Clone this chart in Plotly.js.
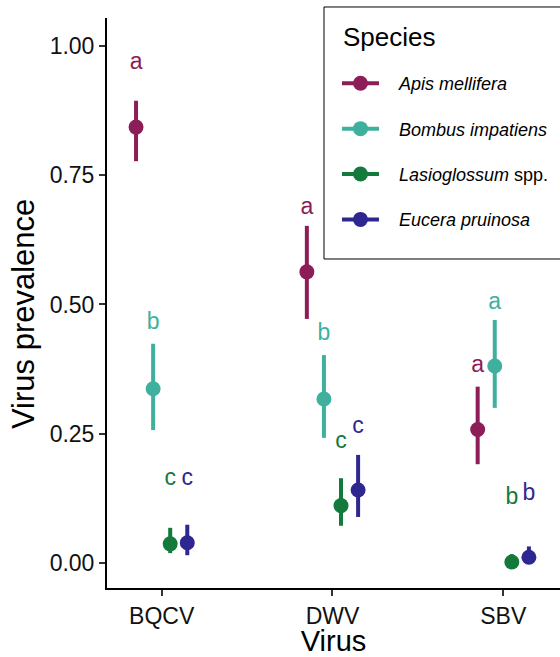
<!DOCTYPE html>
<html>
<head>
<meta charset="utf-8">
<script src="https://cdn.plot.ly/plotly-3.0.1.min.js"></script>
<style>html,body{margin:0;padding:0;background:#fff;}#chart{width:560px;height:657px;}</style>
</head>
<body>
<div id="chart"></div>
<script>
// ---- data ----
var viruses = ["BQCV", "DWV", "SBV"];
var speciesNames = ["<i>Apis mellifera</i>", "<i>Bombus impatiens</i>", "<i>Lasioglossum</i> spp.", "<i>Eucera pruinosa</i>"];

var apisMean   = [0.843, 0.563, 0.258];
var apisLow    = [0.777, 0.472, 0.191];
var apisHigh   = [0.894, 0.652, 0.341];
var apisLetter = ["a", "a", "a"];
var apisLetterY = [0.966, 0.687, 0.381];

var bombusMean   = [0.337, 0.317, 0.381];
var bombusLow    = [0.257, 0.242, 0.300];
var bombusHigh   = [0.424, 0.402, 0.470];
var bombusLetter = ["b", "b", "a"];
var bombusLetterY = [0.463, 0.442, 0.503];

var lasioMean   = [0.037, 0.111, 0.002];
var lasioLow    = [0.019, 0.072, 0.000];
var lasioHigh   = [0.068, 0.164, 0.017];
var lasioLetter = ["c", "c", "b"];
var lasioLetterY = [0.161, 0.234, 0.126];

var euceraMean   = [0.039, 0.141, 0.011];
var euceraLow    = [0.015, 0.089, 0.002];
var euceraHigh   = [0.074, 0.209, 0.032];
var euceraLetter = ["c", "c", "b"];
var euceraLetterY = [0.161, 0.262, 0.132];

// ---- styling ----
var colors = ["#8c1d56", "#40b09e", "#137a3b", "#2e278f"];
var dodge = [-0.15, -0.05, 0.05, 0.15];
var FONT = "Liberation Sans, Arial, Helvetica, sans-serif";
var LEGEND_PAD = "\u00a0\u00a0\u00a0";

var series = [
  {mean: apisMean, lo: apisLow, hi: apisHigh, let: apisLetter, ly: apisLetterY},
  {mean: bombusMean, lo: bombusLow, hi: bombusHigh, let: bombusLetter, ly: bombusLetterY},
  {mean: lasioMean, lo: lasioLow, hi: lasioHigh, let: lasioLetter, ly: lasioLetterY},
  {mean: euceraMean, lo: euceraLow, hi: euceraHigh, let: euceraLetter, ly: euceraLetterY}
];

var traces = [];
series.forEach(function (s, k) {
  // nulls between points: lines+markers draws no connecting segments, legend shows line through dot
  var xs = [], ys = [], ep = [], em = [];
  viruses.forEach(function (v, i) {
    if (i > 0) { xs.push(null); ys.push(null); ep.push(null); em.push(null); }
    xs.push(i + dodge[k]);
    ys.push(s.mean[i]);
    ep.push(s.hi[i] - s.mean[i]);
    em.push(s.mean[i] - s.lo[i]);
  });
  traces.push({
    type: "scatter", mode: "lines+markers", x: xs, y: ys, name: LEGEND_PAD + speciesNames[k],
    legendgroup: "g" + k, connectgaps: false,
    line: {color: colors[k], width: 4},
    marker: {color: colors[k], size: 15},
    error_y: {type: "data", symmetric: false, array: ep, arrayminus: em,
              color: colors[k], thickness: 4, width: 0},
    hoverinfo: "skip"
  });
});
series.forEach(function (s, k) {
  traces.push({
    type: "scatter", mode: "text", showlegend: false,
    x: viruses.map(function (v, i) { return i + dodge[k]; }),
    y: s.ly, text: s.let, textposition: "middle center",
    textfont: {family: FONT, size: 23, color: colors[k]},
    hoverinfo: "skip"
  });
});

var layout = {
  width: 560, height: 657,
  margin: {l: 107, r: 0, t: 18, b: 69},
  paper_bgcolor: "#fff", plot_bgcolor: "#fff",
  font: {family: FONT, color: "#000"},
  showlegend: true,
  xaxis: {
    range: [-0.32, 2.332], tickvals: [0, 1, 2], ticktext: viruses,
    showgrid: false, zeroline: false, showline: true, linecolor: "#000", linewidth: 2,
    ticks: "outside", ticklen: 6, tickwidth: 2, tickcolor: "#333",
    tickfont: {size: 23, color: "#111", family: FONT},
    title: {text: "Virus", font: {size: 29, color: "#000", family: FONT}, standoff: 6}
  },
  yaxis: {
    range: [-0.0484, 1.054], tickvals: [0, 0.25, 0.5, 0.75, 1.0],
    ticktext: ["0.00", "0.25", "0.50", "0.75", "1.00"],
    showgrid: false, zeroline: false, showline: true, linecolor: "#000", linewidth: 2,
    ticks: "outside", ticklen: 6, tickwidth: 2, tickcolor: "#333",
    tickfont: {size: 23, color: "#111", family: FONT}
  },
  legend: {
    x: 0.5077, xanchor: "left", y: 0.9175, yanchor: "top",
    bgcolor: "rgba(0,0,0,0)", borderwidth: 0,
    font: {size: 18, color: "#000", family: FONT},
    tracegroupgap: 19, itemwidth: 37
  },
  shapes: [{
    type: "rect", xref: "paper", yref: "paper",
    x0: 0.479, x1: 1.1, y0: 0.5772, y1: 1.0193,
    line: {color: "#000", width: 1}, fillcolor: "#fff", layer: "above"
  }],
  annotations: [
    {text: "Species", xref: "paper", yref: "paper", x: 0.5166, y: 0.9667,
     xanchor: "left", yanchor: "middle", showarrow: false,
     font: {size: 26, color: "#000", family: FONT}},
    {text: "Virus prevalence", xref: "paper", yref: "paper", x: -0.1854, y: 0.4807,
     xanchor: "center", yanchor: "middle", textangle: -90, showarrow: false,
     font: {size: 31, color: "#000", family: FONT}}
  ]
};

Plotly.newPlot("chart", traces, layout, {staticPlot: true, displayModeBar: false});
</script>
</body>
</html>
